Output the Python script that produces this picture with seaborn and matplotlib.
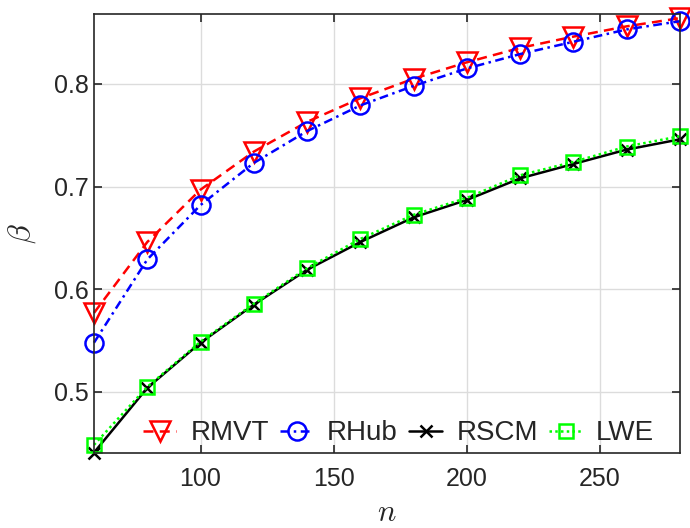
import pandas as pd
import matplotlib
matplotlib.use('Agg')
import matplotlib.pyplot as plt
import seaborn as sns

# --- Data ---
n_vals = [60, 80, 100, 120, 140, 160, 180, 200, 220, 240, 260, 280]
rmvt = [0.577, 0.646, 0.697, 0.734, 0.763, 0.786, 0.805, 0.821, 0.835, 0.846, 0.856, 0.864]
rhub = [0.548, 0.629, 0.682, 0.723, 0.754, 0.779, 0.798, 0.815, 0.829, 0.841, 0.853, 0.861]
rscm = [0.441, 0.504, 0.548, 0.585, 0.619, 0.646, 0.670, 0.687, 0.708, 0.722, 0.736, 0.746]
lwe = [0.4485, 0.505, 0.549, 0.586, 0.6205, 0.649, 0.6725, 0.689, 0.711, 0.724, 0.739, 0.749]

x_ticks = [100, 150, 200, 250]
y_ticks = [0.5, 0.6, 0.7, 0.8]

df = pd.DataFrame({'n': n_vals, 'RMVT': rmvt, 'RHub': rhub, 'RSCM': rscm, 'LWE': lwe})

sns.set_theme(style='ticks')
plt.rcParams['font.family'] = ['Liberation Sans', 'DejaVu Sans']
plt.rcParams['mathtext.fontset'] = 'cm'

fig = plt.figure(figsize=(6.9, 5.28), dpi=100)
ax = fig.add_axes([94 / 690, 75 / 528, 586 / 690, 439 / 528])

# --- Lines ---
common = dict(ax=ax, x='n', data=df, markerfacecolor='none', markeredgewidth=1.8,
              linewidth=1.8, clip_on=False)
sns.lineplot(y='RMVT', color='red', linestyle=(0, (4, 2.5)), marker='v',
             markersize=14, markeredgecolor='red', label='RMVT', **common)
sns.lineplot(y='RHub', color='blue', linestyle=(0, (3.5, 1.8, 1, 1.8)), marker='o',
             markersize=13, markeredgecolor='blue', label='RHub', **common)
sns.lineplot(y='RSCM', color='black', linestyle='-', marker='x',
             markersize=8, markeredgecolor='black', label='RSCM', **common)
sns.lineplot(y='LWE', color='#00ff00', linestyle=(0, (1, 1.3)), marker='s',
             markersize=9.5, markeredgecolor='#00ff00', label='LWE', **common)

# --- Axes styling (MATLAB-like box) ---
ax.set_xlim(60, 280)
ax.set_ylim(0.4406, 0.868)
ax.set_xticks(x_ticks)
ax.set_yticks(y_ticks)
ax.set_yticklabels(['0.5', '0.6', '0.7', '0.8'])
ax.grid(True, color='#dcdcdc', linewidth=1.0)
ax.set_axisbelow(True)
for s in ax.spines.values():
    s.set_visible(True)
    s.set_color('#262626')
    s.set_linewidth(1.2)
ax.tick_params(direction='in', length=6, width=1.2, colors='#262626',
               labelsize=18, top=True, right=True, labelcolor='#262626')
ax.tick_params(axis='x', pad=10)
ax.set_xlabel('$n$', fontsize=22, color='#262626', labelpad=5)
ax.set_ylabel(r'$\beta$', fontsize=23, color='#262626', labelpad=12)

ax.legend(loc='lower right', bbox_to_anchor=(0.975, -0.01), ncol=4, frameon=False,
          fontsize=20, handlelength=1.2, handletextpad=0.5, columnspacing=0.4,
          borderaxespad=0.0)

fig.savefig('out.png', dpi=100)
